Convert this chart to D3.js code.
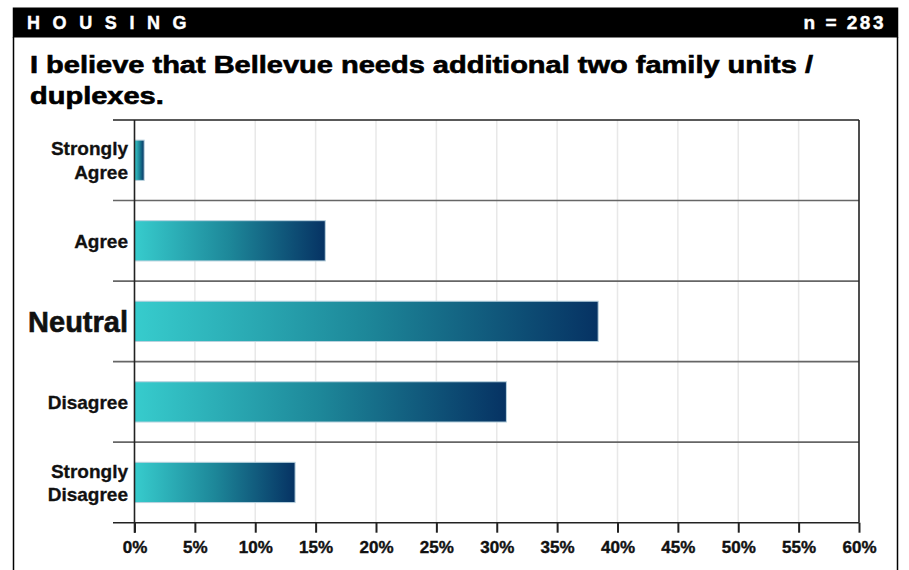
<!DOCTYPE html>
<html><head><meta charset="utf-8">
<script src="https://cdn.jsdelivr.net/npm/d3@7"></script>
<style>
body{margin:0;background:#fff;}
svg{display:block;font-family:"Liberation Sans",Arial,sans-serif;}
</style></head>
<body><svg id="c" width="909" height="570"></svg>
<script>
const headerText = "HOUSING";
const sampleText = "n = 283";
const titleLines = ["I believe that Bellevue needs additional two family units /", "duplexes."];
const categories = ["Strongly Agree", "Agree", "Neutral", "Disagree", "Strongly Disagree"];
const labelLines = [["Strongly", "Agree"], ["Agree"], ["Neutral"], ["Disagree"], ["Strongly", "Disagree"]];
const values = [0.8, 15.8, 38.4, 30.8, 13.3];
const xTicks = [0, 5, 10, 15, 20, 25, 30, 35, 40, 45, 50, 55, 60];

const svg = d3.select("#c");
const W = 909, H = 570;
const frameL = 13.5, frameR = 897.5;
const plot = {l: 134.5, r: 859, t: 120, b: 522.7};

// gradient
const defs = svg.append("defs");
const grad = defs.append("linearGradient").attr("id", "barGrad")
  .attr("x1", "0%").attr("x2", "100%").attr("y1", "0%").attr("y2", "0%");
grad.append("stop").attr("offset", "0%").attr("stop-color", "#37cccd");
grad.append("stop").attr("offset", "50%").attr("stop-color", "#1d8799");
grad.append("stop").attr("offset", "100%").attr("stop-color", "#063263");

// header
svg.append("rect").attr("x", frameL - 0.75).attr("y", 7.5).attr("width", frameR - frameL + 1.5).attr("height", 30).attr("fill", "#000");
svg.append("text").attr("x", 27).attr("y", 28.5).attr("fill", "#fff")
  .attr("font-size", 18).attr("font-weight", "bold").attr("letter-spacing", "12.6px")
  .attr("stroke", "#fff").attr("stroke-width", 0.4).text(headerText);
svg.append("text").attr("x", 886).attr("y", 28.5).attr("fill", "#fff").attr("text-anchor", "end")
  .attr("font-size", 19).attr("font-weight", "bold").attr("letter-spacing", "2.5px")
  .attr("stroke", "#fff").attr("stroke-width", 0.4).text(sampleText);

// frame
svg.append("line").attr("x1", frameL).attr("x2", frameL).attr("y1", 37).attr("y2", H).attr("stroke", "#000").attr("stroke-width", 1.5);
svg.append("line").attr("x1", frameR).attr("x2", frameR).attr("y1", 37).attr("y2", H).attr("stroke", "#000").attr("stroke-width", 1.5);

// title
const title = svg.append("text").attr("font-size", 23).attr("font-weight", "bold").attr("fill", "#000")
  .attr("stroke", "#000").attr("stroke-width", 0.6);
const tspans = titleLines.map((t, i) =>
  title.append("tspan").attr("x", 30).attr("y", 72.5 + i * 31).text(t));
const w0 = tspans[0].node().getComputedTextLength();
const ratio = 783 / w0;
tspans.forEach(ts => {
  const w = ts.node().getComputedTextLength();
  ts.attr("textLength", w * ratio).attr("lengthAdjust", "spacingAndGlyphs");
});

// scales
const x = d3.scaleLinear().domain([0, 60]).range([plot.l, plot.r]);
const y = d3.scaleBand().domain(categories).range([plot.t, plot.b]).paddingInner(0.5).paddingOuter(0.25);
const step = y.step();

// vertical grid
svg.append("g").selectAll("line").data(xTicks.filter(d => d > 0 && d < 60)).join("line")
  .attr("x1", d => x(d)).attr("x2", d => x(d)).attr("y1", plot.t).attr("y2", plot.b)
  .attr("stroke", "#e8e8e8").attr("stroke-width", 1.5);

// row separators (band boundaries)
const bounds = categories.map(c => y(c) - step * 0.25).concat([y(categories[categories.length - 1]) + step * 0.75]);
svg.append("g").selectAll("line").data(bounds).join("line")
  .attr("x1", 113).attr("x2", plot.r)
  .attr("y1", d => d).attr("y2", d => d)
  .attr("stroke", (d, i) => (i === 0 || i === bounds.length - 1) ? "#222" : "#666")
  .attr("stroke-width", 1.6);

// right border
svg.append("line").attr("x1", plot.r).attr("x2", plot.r).attr("y1", plot.t).attr("y2", plot.b).attr("stroke", "#222").attr("stroke-width", 1.6);

// bars
svg.append("g").selectAll("rect").data(categories).join("rect")
  .attr("x", x(0)).attr("y", d => y(d))
  .attr("width", (d, i) => x(values[i]) - x(0)).attr("height", y.bandwidth())
  .attr("fill", "url(#barGrad)").attr("stroke", "#b9d2de").attr("stroke-width", 1);

// y axis line
svg.append("line").attr("x1", plot.l).attr("x2", plot.l).attr("y1", plot.t).attr("y2", plot.b + 10).attr("stroke", "#222").attr("stroke-width", 1.6);

// x axis
const xa = svg.append("g").attr("transform", `translate(0,${plot.b})`)
  .call(d3.axisBottom(x).tickValues(xTicks).tickFormat(d => d + "%").tickSize(10).tickPadding(8));
xa.select(".domain").remove();
xa.selectAll(".tick line").attr("stroke", "#222").attr("stroke-width", 2);
xa.selectAll(".tick text").attr("font-size", 17).attr("font-weight", "bold").attr("fill", "#111")
  .attr("stroke", "#111").attr("stroke-width", 0.4)
  .attr("font-family", "Liberation Sans, Arial, sans-serif");

// y labels
const lg = svg.append("g");
categories.forEach((c, i) => {
  const lines = labelLines[i];
  const cy = y(c) + y.bandwidth() / 2;
  const isN = c === "Neutral";
  const fs = isN ? 29 : 19;
  const lh = 23.4;
  const t = lg.append("text").attr("text-anchor", "end").attr("font-size", fs).attr("font-weight", "bold")
    .attr("fill", "#111").attr("stroke", "#111").attr("stroke-width", isN ? 0.6 : 0.3);
  lines.forEach((l, k) => {
    const off = (k - (lines.length - 1) / 2) * lh;
    t.append("tspan").attr("x", 128).attr("y", cy + off).attr("dy", "0.36em").text(l);
  });
});
</script></body></html>
